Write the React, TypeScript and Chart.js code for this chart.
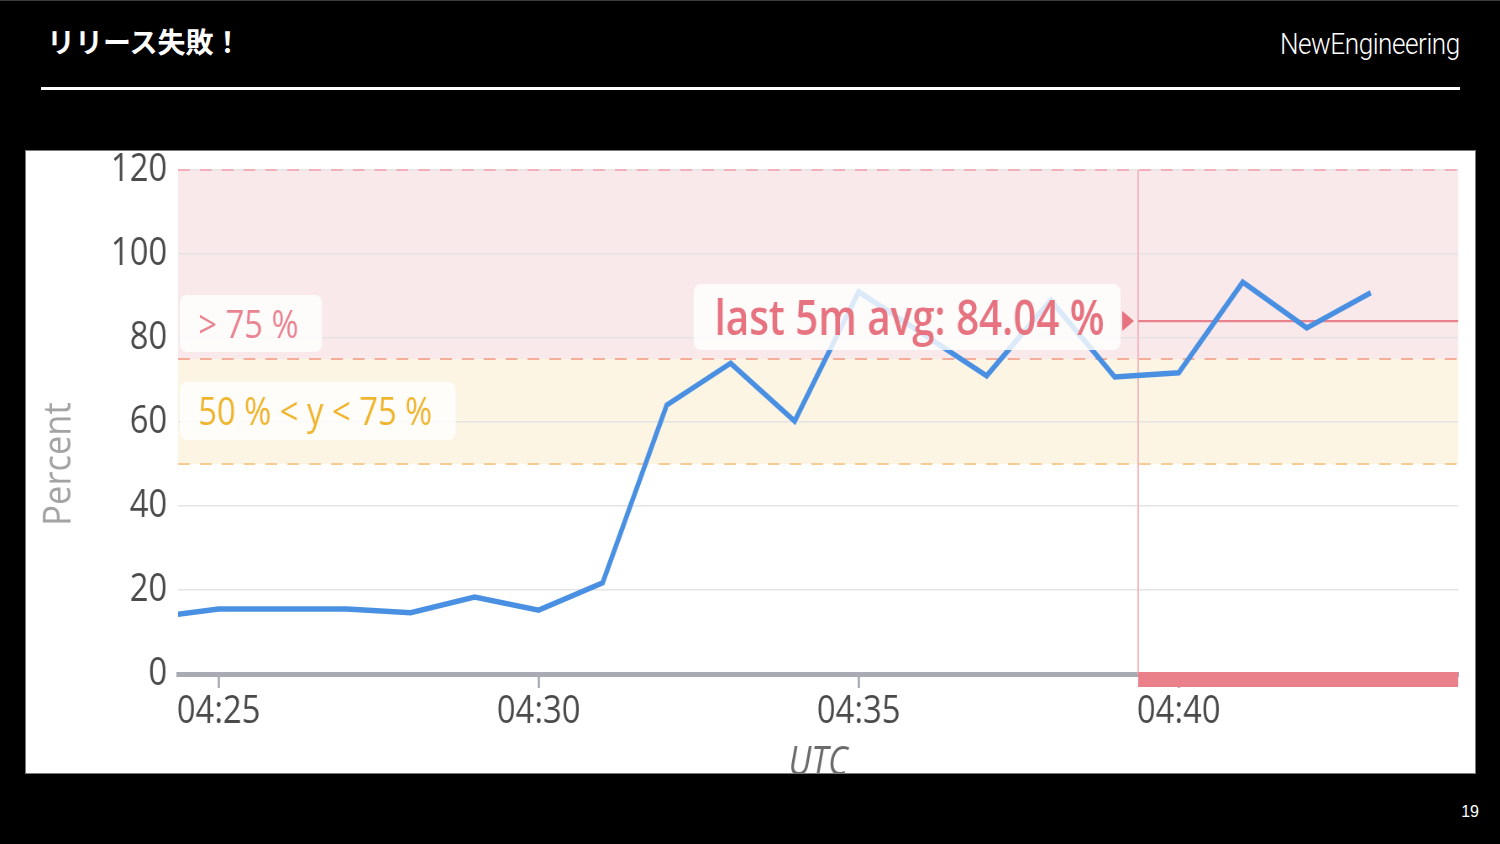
import React, { useEffect, useRef } from 'react';
import { Chart, registerables } from 'chart.js';

Chart.register(...registerables);

// ---- data ----
const TIMES = ['04:24', '04:25', '04:26', '04:27', '04:28', '04:29', '04:30', '04:31', '04:32', '04:33',
  '04:34', '04:35', '04:36', '04:37', '04:38', '04:39', '04:40', '04:41', '04:42', '04:43'];
const CPU_PERCENT = [13.5, 15.5, 15.5, 15.5, 14.6, 18.3, 15.2, 21.7, 64.0, 74.0,
  60.2, 91.0, 81.0, 71.0, 89.0, 70.7, 71.7, 93.3, 82.4, 90.8];
const X_TICK_LABELS = ['04:25', '04:30', '04:35', '04:40'];
const Y_MIN = 0;
const Y_MAX = 120;
const Y_STEP = 20;
const WINDOW_END = '04:44:22';
const WINDOW_MINUTES = 20;
const AVG_WINDOW_MINUTES = 5;
const AVG_VALUE = 84.04;
const ALERT_RANGE = [75, 120];
const WARN_RANGE = [50, 75];
const ALERT_LABEL = '> 75 %';
const WARN_LABEL = '50 % < y < 75 %';
const AVG_LABEL = `last 5m avg: ${AVG_VALUE.toFixed(2)} %`;
const Y_TITLE = 'Percent';
const X_TITLE = 'UTC';

// ---- helpers ----
const toMinutes = (t: string) => {
  const p = t.split(':').map(Number);
  return p[0] * 60 + p[1] + (p[2] || 0) / 60;
};
const fmtMinutes = (v: number) => {
  const h = Math.floor(v / 60);
  const m = Math.round(v - h * 60);
  return `${String(h).padStart(2, '0')}:${String(m).padStart(2, '0')}`;
};

const X_MAX = toMinutes(WINDOW_END);
const X_MIN = X_MAX - WINDOW_MINUTES;
const MARKER = X_MAX - AVG_WINDOW_MINUTES;

const SX = 0.84; // horizontal squeeze of the panel
const PANEL_W = 1449;
const CANVAS_W = Math.round(PANEL_W / SX);
const CANVAS_H = 680;
const FONT = '"Open Sans", "Noto Sans", sans-serif';

function roundRect(ctx: CanvasRenderingContext2D, x: number, y: number, w: number, h: number, r: number) {
  ctx.beginPath();
  if ((ctx as any).roundRect) (ctx as any).roundRect(x, y, w, h, r);
  else ctx.rect(x, y, w, h);
}

const annotate = {
  id: 'annotate',
  beforeDraw(chart: any) {
    const { ctx, chartArea: a, scales } = chart;
    const y = scales.y;
    const yTop = y.getPixelForValue(ALERT_RANGE[1]);
    const y75 = y.getPixelForValue(ALERT_RANGE[0]);
    const y50 = y.getPixelForValue(WARN_RANGE[0]);
    ctx.save();
    ctx.fillStyle = '#f9e9eb';
    ctx.fillRect(a.left, yTop, a.right - a.left, y75 - yTop);
    ctx.fillStyle = '#fdf5e4';
    ctx.fillRect(a.left, y75, a.right - a.left, y50 - y75);
    ctx.restore();
  },
  beforeDatasetsDraw(chart: any) {
    const { ctx, chartArea: a, scales } = chart;
    const { x, y } = scales;
    const dash = (val: number, color: string) => {
      const py = y.getPixelForValue(val);
      ctx.save();
      ctx.strokeStyle = color;
      ctx.lineWidth = 2;
      ctx.setLineDash([14, 12]);
      ctx.beginPath();
      ctx.moveTo(a.left, py);
      ctx.lineTo(a.right, py);
      ctx.stroke();
      ctx.restore();
    };
    dash(ALERT_RANGE[1], '#f1b0ba');
    dash(ALERT_RANGE[0], '#f4ad98');
    dash(WARN_RANGE[0], '#f7cb92');

    const mx = x.getPixelForValue(MARKER);
    const ya = y.getPixelForValue(AVG_VALUE);
    ctx.save();
    ctx.strokeStyle = '#f3b3ba';
    ctx.lineWidth = 1.8;
    ctx.beginPath();
    ctx.moveTo(mx, a.top);
    ctx.lineTo(mx, a.bottom);
    ctx.stroke();
    ctx.strokeStyle = '#e8838e';
    ctx.lineWidth = 2.2;
    ctx.beginPath();
    ctx.moveTo(mx, ya);
    ctx.lineTo(a.right, ya);
    ctx.stroke();
    ctx.restore();
  },
  afterDatasetsDraw(chart: any) {
    const { ctx, chartArea: a, scales } = chart;
    const { x, y } = scales;
    const y75 = y.getPixelForValue(ALERT_RANGE[0]);
    const mx = x.getPixelForValue(MARKER);
    const ya = y.getPixelForValue(AVG_VALUE);
    ctx.save();

    // zone labels
    ctx.font = `39px ${FONT}`;
    const zoneLabel = (text: string, top: number, bottom: number, color: string) => {
      const tx = a.left + 24;
      const w = ctx.measureText(text).width;
      ctx.fillStyle = 'rgba(255,255,255,0.8)';
      roundRect(ctx, a.left + 2, top, tx + w + 28 - (a.left + 2), bottom - top, 8);
      ctx.fill();
      ctx.fillStyle = color;
      ctx.textBaseline = 'alphabetic';
      ctx.fillText(text, tx, (top + bottom) / 2 + 14);
    };
    zoneLabel(ALERT_LABEL, y75 - 64, y75 - 7, '#e9838f');
    zoneLabel(WARN_LABEL, y75 + 23, y75 + 81, '#f0b52e');

    // avg label
    ctx.font = `600 48px ${FONT}`;
    const w = ctx.measureText(AVG_LABEL).width;
    const boxRight = mx - 21;
    const tx = boxRight - 19 - w;
    ctx.fillStyle = 'rgba(255,255,255,0.8)';
    roundRect(ctx, tx - 25, ya - 37, boxRight - (tx - 25), 66, 8);
    ctx.fill();
    ctx.fillStyle = '#e6737f';
    ctx.fillText(AVG_LABEL, tx, ya + 14);

    // arrow
    ctx.fillStyle = '#e6737f';
    ctx.beginPath();
    ctx.moveTo(mx - 19, ya - 10);
    ctx.lineTo(mx - 5, ya);
    ctx.lineTo(mx - 19, ya + 10);
    ctx.closePath();
    ctx.fill();

    // event bar
    ctx.fillStyle = '#e9808a';
    ctx.fillRect(mx, a.bottom - 2, a.right - mx, 15);

    // y title
    ctx.save();
    ctx.translate(37, 313);
    ctx.rotate(-Math.PI / 2);
    ctx.scale(0.765, 1);
    ctx.font = `45px ${FONT}`;
    ctx.fillStyle = '#a3a3a3';
    ctx.textAlign = 'center';
    ctx.textBaseline = 'alphabetic';
    ctx.fillText(Y_TITLE, 0, 16);
    ctx.restore();

    ctx.restore();
  },
};

function ChartPanel() {
  const ref = useRef<HTMLCanvasElement>(null);
  useEffect(() => {
    if (!ref.current) return;
    const chart = new Chart(ref.current, {
      type: 'line',
      data: {
        datasets: [{
          label: 'cpu',
          data: TIMES.map((t, i) => ({ x: toMinutes(t), y: CPU_PERCENT[i] })),
          borderColor: '#4a90e2',
          borderWidth: 5.5,
          pointRadius: 0,
          tension: 0,
          fill: false,
        }],
      },
      options: {
        animation: false,
        responsive: false,
        devicePixelRatio: 1,
        events: [],
        layout: { padding: { top: 19, right: 20, left: 0, bottom: 0 } },
        plugins: { legend: { display: false }, tooltip: { enabled: false } },
        scales: {
          x: {
            type: 'linear',
            min: X_MIN,
            max: X_MAX,
            afterBuildTicks: (s: any) => { s.ticks = X_TICK_LABELS.map((t) => ({ value: toMinutes(t) })); },
            afterFit: (s: any) => { s.height = CANVAS_H - 523; },
            ticks: {
              callback: (v: any) => fmtMinutes(Number(v)),
              font: { family: FONT, size: 39 },
              color: '#4a4a4a',
              padding: 0,
              maxRotation: 0,
              autoSkip: false,
            },
            grid: { drawOnChartArea: false, drawTicks: true, tickLength: 14, tickColor: '#9ea1aa', tickWidth: 2.4 },
            border: { display: true, color: '#a9abb4', width: 5 },
            title: {
              display: true,
              text: X_TITLE,
              font: { family: FONT, size: 40, style: 'italic' },
              color: '#6b6b6b',
              padding: { top: 0, bottom: 43 },
            },
          },
          y: {
            min: Y_MIN,
            max: Y_MAX,
            afterFit: (s: any) => { s.width = 181; },
            ticks: { stepSize: Y_STEP, font: { family: FONT, size: 39, lineHeight: 0.1 }, color: '#4a4a4a', padding: 13 },
            grid: { color: '#e4e4e4', lineWidth: 1.5, drawTicks: false },
            border: { display: false },
          },
        },
      },
      plugins: [annotate],
    } as any);
    return () => chart.destroy();
  }, []);
  return (
    <canvas
      ref={ref}
      width={CANVAS_W}
      height={CANVAS_H}
      style={{ display: 'block', width: CANVAS_W + 'px', height: CANVAS_H + 'px', transform: `scaleX(${SX})`, transformOrigin: '0 0' }}
    />
  );
}

export default function App() {
  return (
    <div style={{ position: 'fixed', left: 0, top: 0, width: 1500, height: 844, background: '#000', overflow: 'hidden' }}>
      <div style={{ position: 'absolute', left: 0, top: 0, width: 1500, height: 1, background: '#3c3c3c' }} />
      <div style={{ position: 'absolute', left: 47, top: 24, color: '#fff', fontFamily: '"Noto Sans CJK JP", sans-serif', fontWeight: 700, fontSize: 28, lineHeight: '34px', letterSpacing: 0, whiteSpace: 'nowrap' }}>
        リリース失敗！
      </div>
      <div style={{ position: 'absolute', right: 40, top: 24, color: '#fff', fontFamily: 'Roboto, sans-serif', fontWeight: 300, fontSize: 29, lineHeight: '40px', whiteSpace: 'nowrap', transform: 'scaleX(0.9)', transformOrigin: '100% 0', letterSpacing: -0.5 }}>
        NewEngineering
      </div>
      <div style={{ position: 'absolute', left: 41, top: 87, width: 1419, height: 3, background: '#fff' }} />
      <div style={{ position: 'absolute', left: 25, top: 150, width: 1451, height: 624, boxSizing: 'border-box', border: '1px solid #7a7a7a', background: '#fff', overflow: 'hidden' }}>
        <ChartPanel />
      </div>
      <div style={{ position: 'absolute', right: 21, top: 802, color: '#fff', fontFamily: '"Liberation Sans", Arial, sans-serif', fontSize: 16, lineHeight: '20px' }}>
        19
      </div>
    </div>
  );
}
